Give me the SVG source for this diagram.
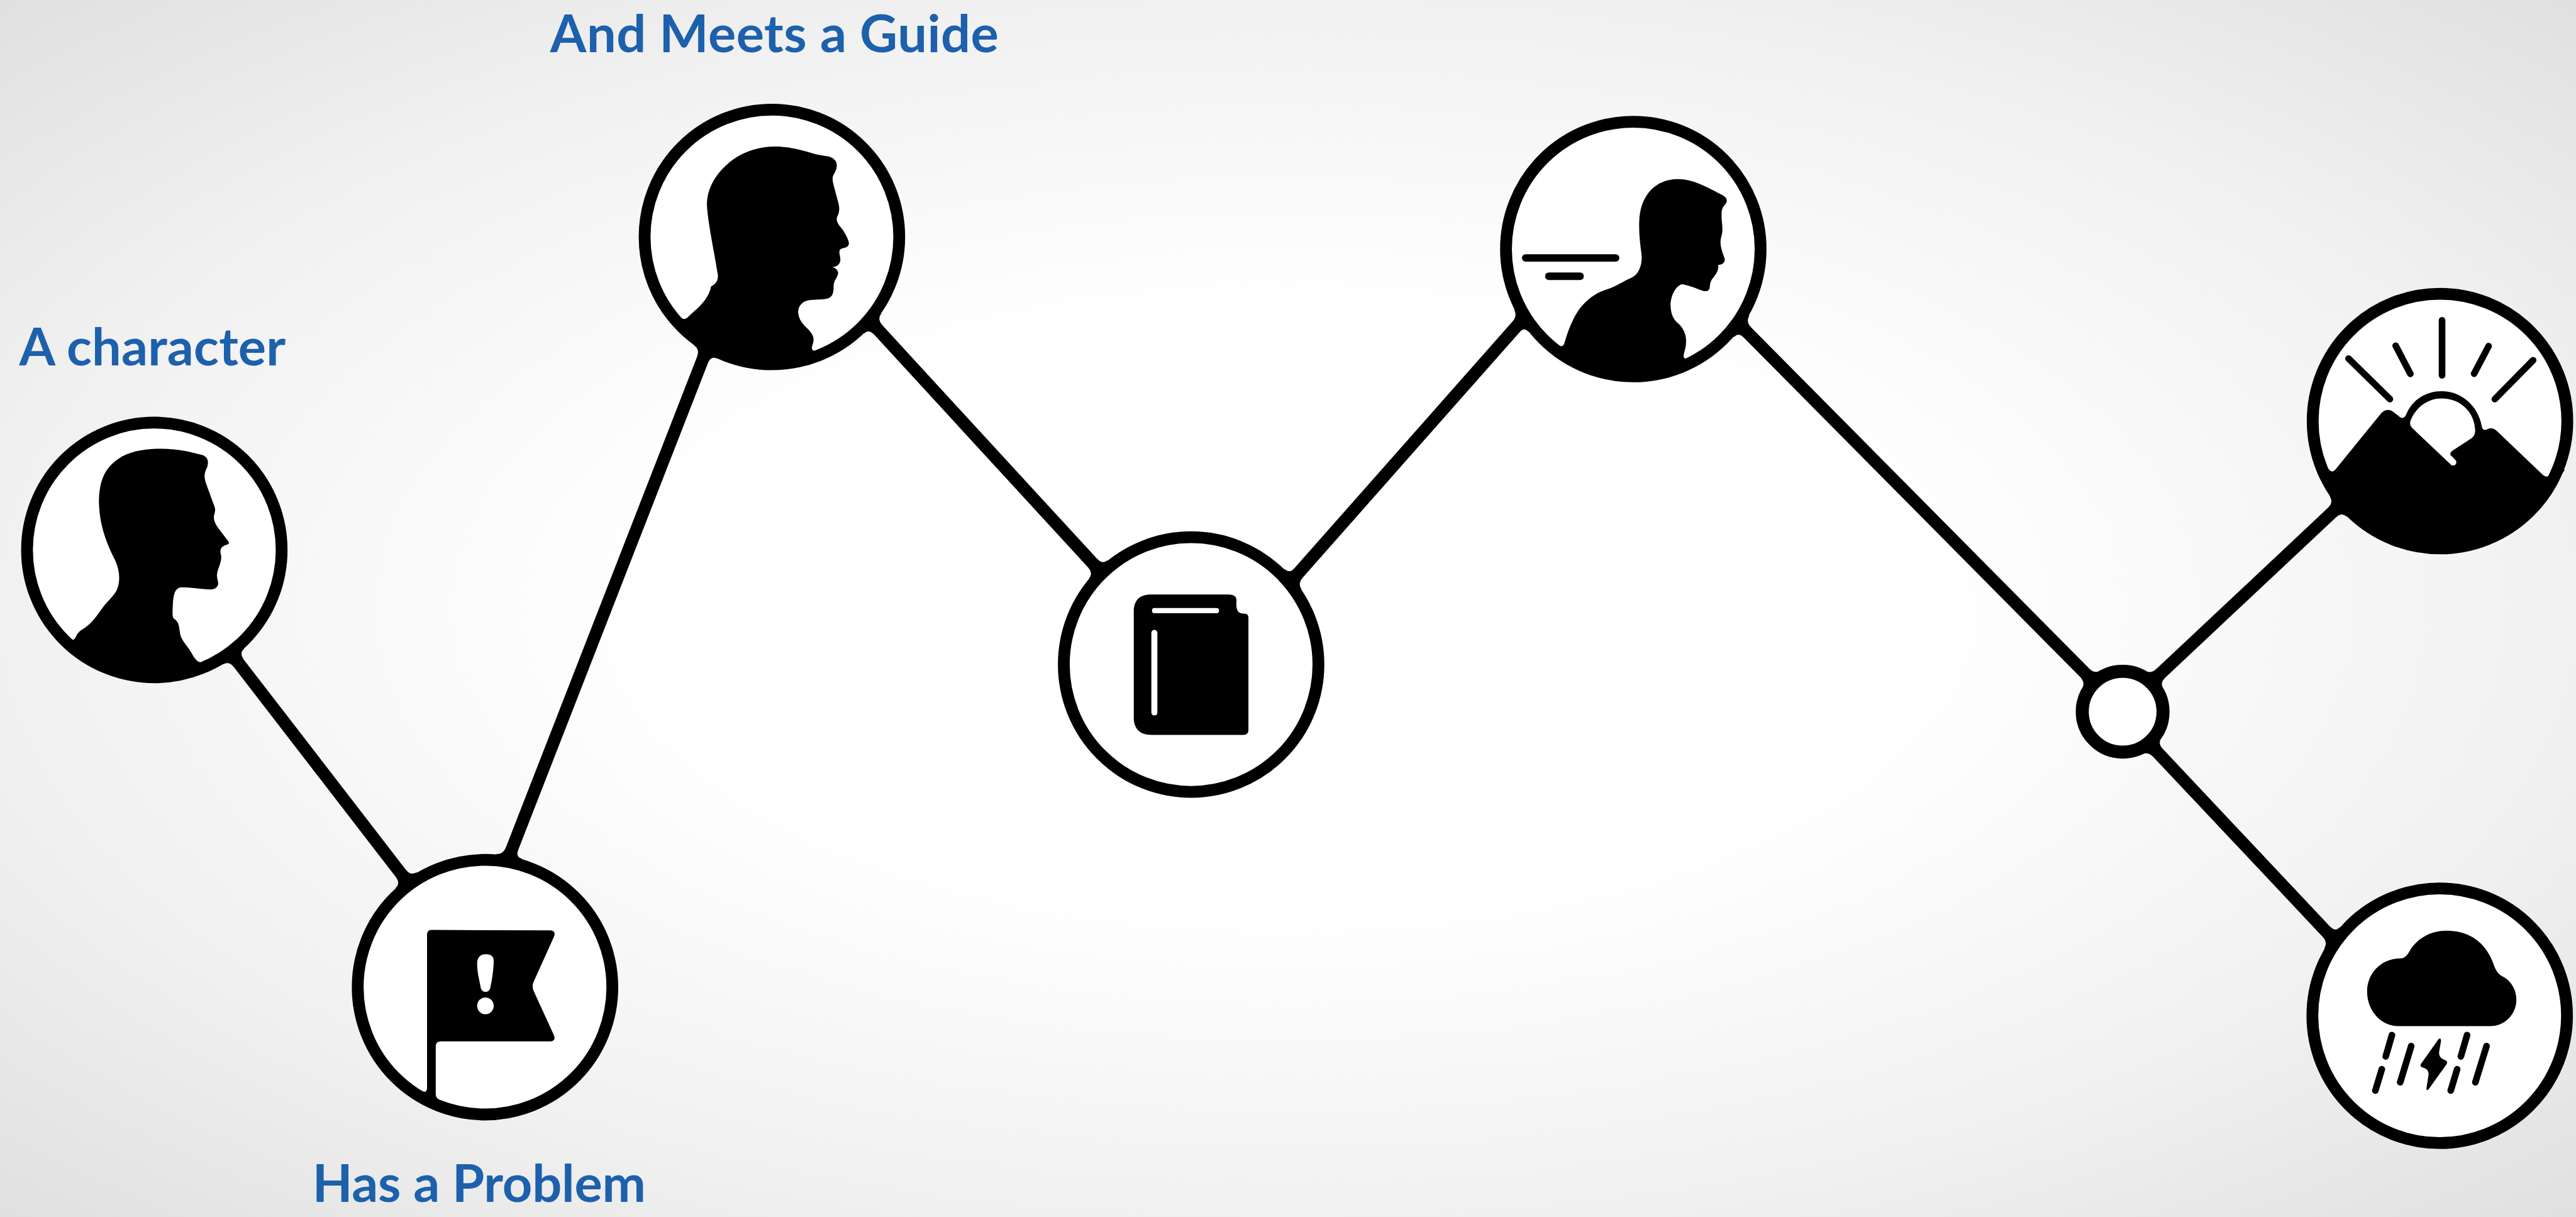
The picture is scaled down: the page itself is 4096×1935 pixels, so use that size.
<svg xmlns="http://www.w3.org/2000/svg" width="4096" height="1935" viewBox="0 0 4096 1935">
<style>
.lbl{font-family:"Lato","Liberation Sans",sans-serif;font-weight:700;font-size:84px;fill:#1d60ac}
.ring{fill:#fff;stroke:#000;stroke-width:19}
.small{stroke-width:21}
.k{fill:#000}
.w{fill:#fff}
.conn line{stroke:#000;stroke-width:20}
.stk{stroke:#000;stroke-width:32;stroke-linecap:round;fill:none}
</style>
<defs>
<radialGradient id="bg" cx="50%" cy="50%" r="70.7%">
<stop offset="0.35" stop-color="#fff"/>
<stop offset="0.707" stop-color="#f1f1f1"/>
<stop offset="1" stop-color="#e0e0e0"/>
</radialGradient>
<path id="f" d="M-10-21L0-21Q1-10.5 13-10L13 10Q1 10.5 0 21L-10 21Z"/>
<path id="fs" d="M-10-19L-2.2-19Q1-10.5 11-10L11 10Q1 10.5-2.2 19L-10 19Z"/>
</defs>
<rect width="4096" height="1935" fill="url(#bg)"/>
<g transform="scale(0.98746)">
<g id="connectors" class="conn">
<line x1="376.2" y1="1057.2" x2="653.9" y2="1417.2"/>
<line x1="819.7" y1="1378.9" x2="1136.2" y2="566.8"/>
<line x1="1405" y1="521.2" x2="1768.6" y2="916.8"/>
<line x1="2082.1" y1="932.6" x2="2449.8" y2="516.6"/>
<line x1="2804.4" y1="525.8" x2="3365.7" y2="1092.2"/>
<line x1="3470.5" y1="1092.5" x2="3765.3" y2="815.8"/>
<line x1="3466.4" y1="1203.2" x2="3755.2" y2="1509.9"/>
<use href="#f" transform="matrix(.61 .792 -.802 .597 376.2 1057.2)"/>
<use href="#f" transform="matrix(-.61 -.792 .805 -.594 653.9 1417.2)"/>
<use href="#f" transform="matrix(.363 -.932 .984 .181 819.7 1378.9)"/>
<use href="#f" transform="matrix(-.363 .932 .866 .499 1136.2 566.8)"/>
<use href="#f" transform="matrix(.677 .736 -.653 .757 1405 521.2)"/>
<use href="#f" transform="matrix(-.677 -.736 .716 -.698 1768.6 916.8)"/>
<use href="#f" transform="matrix(.662 -.749 .642 .767 2082.1 932.6)"/>
<use href="#f" transform="matrix(-.662 .749 .54 .842 2449.8 516.6)"/>
<use href="#f" transform="matrix(.704 .71 -.583 .815 2804.4 525.8)"/>
<use href="#fs" transform="matrix(-.704 -.71 .717 -.697 3365.7 1092.2)"/>
<use href="#fs" transform="matrix(.729 -.684 .713 .7 3470.5 1092.5)"/>
<use href="#f" transform="matrix(-.729 .684 .644 .765 3765.3 815.8)"/>
<use href="#fs" transform="matrix(.685 .728 -.763 .645 3466.4 1203.2)"/>
<use href="#f" transform="matrix(-.685 -.728 .587 -.81 3755.2 1509.9)"/>
</g>
<g id="node-character">
<circle class="ring" cx="248.5" cy="885.5" r="205"/>
<path class="k" transform="translate(0 500) scale(.3333 .3954)" d="M755 563C850 560 920 575 975 588C1005 595 1010 615 1000 640C985 665 985 680 998 710L1035 795C1045 815 1035 825 1033 840C1033 860 1045 875 1060 892L1103 940C1112 950 1100 952 1090 955C1068 962 1062 975 1066 990C1072 1005 1068 1020 1060 1040C1048 1065 1045 1080 1052 1100C1060 1120 1045 1135 1020 1136C970 1135 920 1127 880 1127C845 1128 838 1155 835 1200C833 1230 832 1250 840 1255C860 1265 865 1280 868 1305C872 1335 885 1345 910 1375C935 1402 945 1440 985 1432L1015 1420L1020 1445L870 1490L745 1500L545 1470L320 1350L325 1327C340 1342 355 1350 367 1328C372 1318 380 1308 395 1300C440 1280 470 1240 505 1200C530 1175 560 1155 570 1125C582 1090 575 1050 555 1015C520 955 480 880 478 780C478 690 510 640 570 605C620 575 690 565 755 563Z"/>
<text class="lbl" x="31" y="588" textLength="429" lengthAdjust="spacing">A character</text>
</g>
<g id="node-problem">
<circle class="ring" cx="781" cy="1589.5" r="205"/>
<g transform="translate(540 1340) scale(.3333 .3954)">
<path class="k" d="M465 398L1040 400C1060 402 1063 412 1055 428L960 605C950 622 952 635 960 650L1055 825C1065 845 1055 852 1030 852L510 852C492 852 485 860 485 875L485 1065C485 1080 495 1088 510 1093L530 1100L520 1130L420 1090L400 1045C420 1055 442 1068 443 1040L443 420C443 405 450 398 465 398Z"/>
<path class="w" d="M725 497C750 497 765 503 765 525C765 560 755 610 748 635C742 655 710 655 703 635C695 600 685 570 685 535C685 510 700 497 725 497Z"/>
<ellipse class="w" cx="725" cy="707" rx="40" ry="34"/>
</g>
<text class="lbl" x="503" y="1935" textLength="537" lengthAdjust="spacing">Has a Problem</text>
</g>
<g id="node-guide">
<circle class="ring" cx="1243" cy="381.5" r="205"/>
<path class="k" transform="translate(980 0) scale(.3333 .4082)" d="M805 578C880 578 940 595 985 605C1030 617 1060 612 1085 625C1110 640 1105 665 1090 685C1078 700 1082 712 1087 730L1110 800C1120 830 1110 845 1103 858C1098 875 1115 890 1130 905C1150 930 1165 955 1160 965C1150 982 1130 975 1118 985C1110 995 1120 1010 1120 1025C1118 1045 1100 1052 1082 1053C1100 1058 1112 1070 1108 1082C1102 1098 1090 1105 1087 1125C1088 1150 1085 1170 1060 1177C1020 1185 975 1178 945 1190C915 1205 908 1230 925 1260C940 1285 965 1295 980 1315C1000 1340 985 1355 982 1370C982 1385 995 1387 1010 1380L1040 1370L1060 1390L900 1430L787 1435L600 1405L450 1340L340 1245C355 1262 370 1262 385 1250C420 1220 480 1190 495 1130C520 1120 530 1105 528 1085C510 990 480 880 475 810C475 740 520 680 600 630C660 595 730 578 805 578Z"/>
<text class="lbl" x="886" y="84" textLength="722" lengthAdjust="spacing">And Meets a Guide</text>
</g>
<g id="node-book">
<circle class="ring" cx="1918" cy="1070" r="205"/>
<g transform="translate(1680 840) scale(.3333)">
<path class="k" d="M520 352L895 352C925 352 935 365 933 385C930 425 940 443 965 444C985 445 991 450 991 465L991 1005C991 1022 982 1030 965 1030L525 1030C465 1030 437 1000 437 945L437 435C437 380 465 352 520 352Z"/>
<rect class="w" x="525" y="417" width="324" height="25" rx="12"/>
<rect class="w" x="522" y="523" width="29" height="413" rx="14"/>
</g>
</g>
<g id="node-mentor">
<circle class="ring" cx="2630" cy="401" r="205"/>
<g class="k" transform="translate(2400 170) scale(.3333)">
<rect x="152" y="718" width="471" height="36" rx="18"/>
<rect x="264" y="806" width="187" height="37" rx="18"/>
<path d="M905 355C980 355 1050 395 1125 435C1145 447 1147 465 1132 480C1115 497 1115 520 1118 560C1122 600 1122 610 1115 635C1105 670 1118 700 1130 735C1137 755 1125 768 1100 770C1105 800 1085 820 1070 840C1058 860 1062 870 1058 885C1048 905 1025 895 1000 885C975 875 945 865 925 863C895 870 870 920 870 965C872 1010 885 1035 910 1055C945 1090 950 1130 942 1170C938 1190 930 1205 935 1217C940 1225 950 1222 960 1215L1010 1185L1030 1215L900 1280L690 1310L500 1280L330 1190L318 1148C335 1165 352 1170 358 1145C375 1085 400 1020 440 970C480 925 520 900 570 885C610 872 640 850 680 832C715 820 735 770 730 720C722 660 715 600 720 540C730 430 800 355 905 355Z"/>
</g>
</g>
<g id="node-junction">
<circle class="ring small" cx="3418" cy="1146" r="65"/>
</g>
<g id="node-success">
<circle class="ring" cx="3929" cy="678" r="205"/>
<g transform="translate(3700 450) scale(.3333)">
<path class="stk" d="M245 382L445 578M473 320L544 456M697 197L697 463M922 322L852 455M1137 390L952 578"/>
<path class="k" d="M150 915C158 930 170 932 182 918L400 650C420 625 445 625 465 642L490 662C505 675 518 668 525 650C555 580 620 540 695 540C790 540 870 610 888 705C892 730 905 730 918 722C935 715 950 720 965 735L1180 940C1195 955 1212 958 1220 940L1240 890L1290 920L1230 1000L1100 1150L900 1260L687 1300L450 1250L250 1110L130 960Z"/>
<path class="w" d="M695 575C785 575 855 640 857 730C857 750 850 760 835 770L750 825C735 835 733 845 745 855L760 870C775 885 760 905 742 897L555 720C540 705 540 690 548 675C575 615 630 575 695 575Z"/>
</g>
</g>
<g id="node-failure">
<circle class="ring" cx="3928.5" cy="1635.5" r="205"/>
<g transform="translate(3700 1400) scale(.3333)">
<path class="k" d="M720 296C820 296 905 345 945 455C958 495 975 510 995 520C1035 543 1056 585 1056 630C1056 700 1000 757 930 757L490 757C400 757 335 680 335 590C335 500 405 432 490 430C515 430 525 420 540 395C575 335 640 296 720 296Z"/>
<path class="stk" d="M455 800L425 903M548 853L495 1028M406 965L375 1068M818 800L788 903M912 853L858 1028M770 965L739 1068"/>
<path class="k" d="M680 820C688 812 693 820 692 830L683 880C680 905 695 915 710 920C722 925 725 932 718 942L632 1062C625 1070 620 1065 622 1055L632 990C632 970 620 960 605 957C592 953 590 945 598 935Z"/>
</g>
</g>
</g>
</svg>
